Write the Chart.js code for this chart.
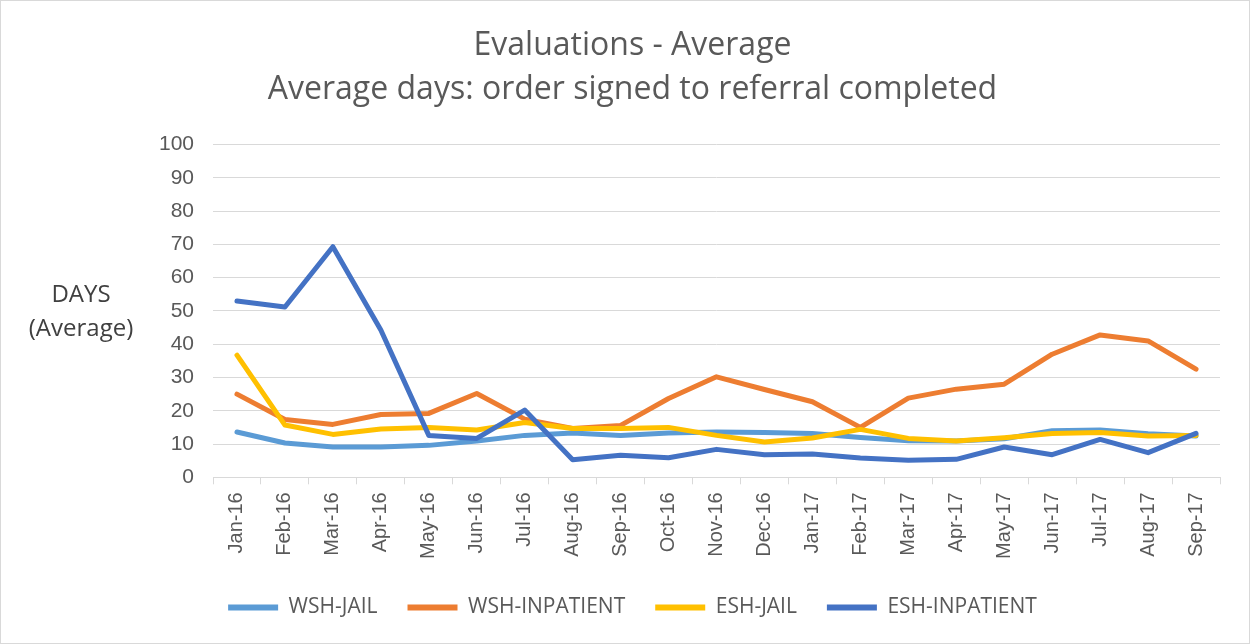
<!DOCTYPE html>
<html>
<head>
<meta charset="utf-8">
<script src="https://cdn.jsdelivr.net/npm/chart.js@4"></script>
<style>
  body { margin: 0; background: #fff; }
  #wrap { width: 1250px; height: 644px; box-sizing: border-box; border: 1px solid #d9d9d9; position: relative; }
</style>
</head>
<body>
<div id="wrap"><canvas id="chart"></canvas></div>
<script>
// Data
const months = ['Jan-16', 'Feb-16', 'Mar-16', 'Apr-16', 'May-16', 'Jun-16', 'Jul-16', 'Aug-16', 'Sep-16', 'Oct-16', 'Nov-16',
  'Dec-16', 'Jan-17', 'Feb-17', 'Mar-17', 'Apr-17', 'May-17', 'Jun-17', 'Jul-17', 'Aug-17', 'Sep-17'];
const wshJail = [13.6, 10.3, 9.1, 9.1, 9.6, 10.9, 12.6, 13.3, 12.6, 13.3, 13.6, 13.5, 13.2, 12, 11, 10.9, 11.6, 14, 14.2, 13.1, 12.4];
const wshInpatient = [25, 17.4, 15.9, 18.9, 19.2, 25.2, 17.5, 14.7, 15.6, 23.7, 30.2, 26.4, 22.7, 15, 23.8, 26.5, 28, 37, 42.8, 41, 32.5];
const eshJail = [36.7, 15.7, 12.9, 14.5, 15, 14.2, 16.5, 14.7, 14.7, 15, 12.6, 10.6, 11.8, 14.4, 11.7, 10.9, 11.9, 13.2, 13.5, 12.4, 12.6];
const eshInpatient = [53, 51.2, 69.3, 44.3, 12.6, 11.7, 20.2, 5.3, 6.6, 5.9, 8.4, 6.8, 7, 5.8, 5.1, 5.4, 9.1, 6.8, 11.4, 7.4, 13.2];
const yTicks = [0, 10, 20, 30, 40, 50, 60, 70, 80, 90, 100];

const FONT = "'Open Sans', sans-serif";
const TICKFONT = "'Liberation Sans', Arial, sans-serif";
const TEXT = '#595959';

function series(label, data, color, order) {
  return {
    label: label,
    data: data,
    borderColor: color,
    backgroundColor: color,
    borderWidth: 5,
    pointRadius: 0,
    pointHoverRadius: 0,
    tension: 0,
    borderCapStyle: 'round',
    borderJoinStyle: 'round',
    pointStyle: 'line',
    order: order
  };
}

// horizontal y-axis title, like Excel does it
const yTitle = {
  id: 'yTitle',
  afterDraw(chart) {
    const ctx = chart.ctx;
    ctx.save();
    ctx.fillStyle = '#404040';
    ctx.font = "24px " + FONT;
    ctx.textAlign = 'center';
    ctx.textBaseline = 'middle';
    ctx.fillText('DAYS', 80, 294);
    ctx.fillText('(Average)', 80, 328);
    ctx.restore();
  }
};

new Chart(document.getElementById('chart'), {
  type: 'line',
  data: {
    labels: months,
    datasets: [
      series('WSH-JAIL', wshJail, '#5B9BD5', 4),
      series('WSH-INPATIENT', wshInpatient, '#ED7D31', 3),
      series('ESH-JAIL', eshJail, '#FFC000', 2),
      series('ESH-INPATIENT', eshInpatient, '#4472C4', 1)
    ]
  },
  options: {
    responsive: true,
    maintainAspectRatio: false,
    animation: false,
    layout: { padding: { left: 44, right: 29, top: 22, bottom: 15 } },
    plugins: {
      title: {
        display: true,
        text: ['Evaluations - Average', 'Average days: order signed to referral completed'],
        color: TEXT,
        font: { family: FONT, size: 32, weight: 'normal', lineHeight: 1.4 },
        padding: { top: 0, bottom: 32 }
      },
      legend: {
        position: 'bottom',
        labels: {
          usePointStyle: true,
          pointStyleWidth: 50,
          boxHeight: 6,
          color: TEXT,
          font: { family: FONT, size: 21 },
          padding: 30,
          sort: (a, b) => a.datasetIndex - b.datasetIndex,
          generateLabels: (chart) => Chart.defaults.plugins.legend.labels.generateLabels(chart)
            .map(l => Object.assign(l, { lineWidth: 6 }))
        }
      },
      tooltip: { enabled: false }
    },
    scales: {
      x: {
        offset: true,
        grid: { drawOnChartArea: false, drawTicks: true, tickLength: 7, color: '#d9d9d9', offset: true },
        border: { color: '#d9d9d9' },
        ticks: { color: TEXT, font: { family: TICKFONT, size: 20 }, maxRotation: 90, minRotation: 90, autoSkip: false, padding: 8 }
      },
      y: {
        min: 0,
        max: 100,
        afterBuildTicks(axis) { axis.ticks = yTicks.map(v => ({ value: v })); },
        afterFit(axis) { axis.width = 168; },
        grid: { color: '#d9d9d9', drawTicks: false },
        border: { display: false },
        ticks: { color: TEXT, font: { family: TICKFONT, size: 21 }, padding: 19 }
      }
    }
  },
  plugins: [yTitle]
});
</script>
</body>
</html>
